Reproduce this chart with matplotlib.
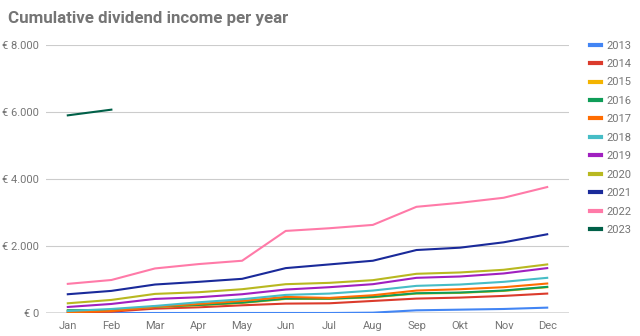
import matplotlib
matplotlib.use('Agg')
import matplotlib.pyplot as plt
from matplotlib.ticker import FuncFormatter

months = ['Jan', 'Feb', 'Mar', 'Apr', 'May', 'Jun', 'Jul', 'Aug', 'Sep', 'Okt', 'Nov', 'Dec']
years = ['2013', '2014', '2015', '2016', '2017', '2018', '2019', '2020', '2021', '2022', '2023']

v2013 = [0, 0, 0, 0, 0, 0, 0, 10, 80, 100, 120, 160]
v2014 = [10, 40, 130, 170, 230, 280, 290, 360, 430, 460, 510, 580]
v2015 = [70, 80, 180, 230, 300, 420, 420, 470, 580, 600, 660, 770]
v2016 = [80, 90, 190, 240, 310, 430, 430, 480, 590, 610, 670, 780]
v2017 = [20, 60, 190, 270, 360, 480, 450, 530, 670, 710, 770, 880]
v2018 = [60, 120, 210, 320, 410, 540, 580, 670, 810, 850, 930, 1050]
v2019 = [180, 270, 420, 470, 560, 700, 770, 860, 1050, 1090, 1180, 1340]
v2020 = [290, 390, 570, 620, 710, 860, 900, 980, 1170, 1210, 1290, 1450]
v2021 = [560, 660, 850, 930, 1020, 1340, 1450, 1560, 1880, 1950, 2110, 2350]
v2022 = [870, 985, 1330, 1460, 1560, 2450, 2530, 2630, 3170, 3290, 3440, 3760]
v2023 = [5900, 6070]

series = [v2013, v2014, v2015, v2016, v2017, v2018, v2019, v2020, v2021, v2022, v2023]
colors = ['#4285f4', '#db3b2c', '#f4b400', '#0f9d58', '#ff6d01', '#46bdc6',
          '#a020c0', '#b8b820', '#1a2a9a', '#ff7aa8', '#006048']

plt.rcParams['font.family'] = ['Roboto', 'DejaVu Sans']

fig = plt.figure(figsize=(6.4, 3.36), dpi=100)
ax = fig.add_axes([46 / 640, 23 / 336, (569 - 46) / 640, (313 - 45) / 336])

for yr, vals, c in zip(years, series, colors):
    ax.plot(range(len(vals)), vals, color=c, lw=1.5, label=yr, zorder=3)

ax.set_xlim(-0.5, 11.5)
ax.set_ylim(0, 8000)
ax.set_xticks(range(12))
ax.set_xticklabels(months)
ax.set_yticks([0, 2000, 4000, 6000, 8000])
ax.yaxis.set_major_formatter(FuncFormatter(lambda v, p: '€ ' + f'{int(v):,}'.replace(',', '.')))
ax.grid(axis='y', color='#cccccc', lw=0.8, zorder=0)
ax.axhline(0, color='#555555', lw=1, zorder=2)
for s in ax.spines.values():
    s.set_visible(False)
ax.tick_params(length=0, labelsize=8, colors='#757575')
ax.tick_params(axis='x', pad=6)
ax.tick_params(axis='y', pad=5)

leg = ax.legend(loc='upper left', bbox_to_anchor=(1.021, 1.054), frameon=False,
                fontsize=8, handlelength=1.0, handletextpad=0.5, labelspacing=0.76)
for h in leg.get_lines():
    h.set_linewidth(3)
for t in leg.get_texts():
    t.set_color('#757575')

fig.text(8 / 640, 1 - 18 / 336, 'Cumulative dividend income per year', fontsize=12.2,
         fontweight='bold', color='#757575', va='center', ha='left')

fig.savefig('out.png', dpi=100)
